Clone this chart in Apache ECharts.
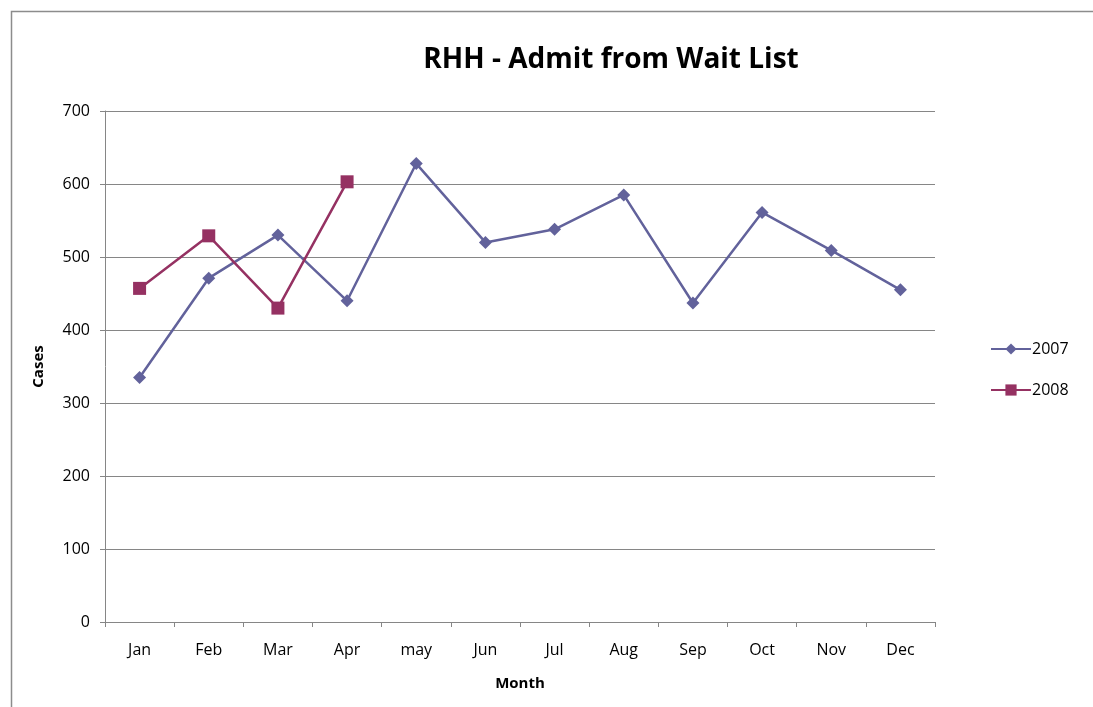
<!DOCTYPE html>
<html>
<head>
<meta charset="utf-8">
<script src="https://cdn.jsdelivr.net/npm/echarts@6/dist/echarts.min.js"></script>
<style>html,body{margin:0;padding:0;background:#fff}#c{width:1093px;height:707px}</style>
</head>
<body>
<div id="c"></div>
<script>
const months = ['Jan','Feb','Mar','Apr','may','Jun','Jul','Aug','Sep','Oct','Nov','Dec'];
const s2007 = [335, 471, 530, 440, 628, 520, 538, 585, 437, 561, 509, 455];
const s2008 = [457, 529, 430, 603];
const yTicks = [0, 100, 200, 300, 400, 500, 600, 700];

const font = '"Open Sans", "Liberation Sans", sans-serif';
const chart = echarts.init(document.getElementById('c'));
chart.setOption({
  animation: false,
  backgroundColor: '#fff',
  graphic: [{
    type: 'rect', left: 9, top: 9, silent: true,
    shape: { width: 1200, height: 800 },
    style: { fill: 'none', stroke: '#8c8c8c', lineWidth: 1.5 }
  }],
  title: {
    text: 'RHH - Admit from Wait List',
    left: 606, top: 41, textAlign: 'center',
    textStyle: { fontFamily: font, fontWeight: 'bold', fontSize: 28, color: '#000' }
  },
  legend: {
    orient: 'vertical', left: 985, top: 336, itemGap: 25,
    itemWidth: 40, itemHeight: 14,
    textStyle: { fontFamily: font, fontSize: 16, color: '#000', padding: [0,0,0,-4] },
    data: ['2007', '2008']
  },
  grid: { left: 105, right: 158, top: 111, bottom: 85, containLabel: false },
  xAxis: {
    type: 'category', data: months, boundaryGap: true,
    name: 'Month', nameLocation: 'middle', nameGap: 54,
    nameTextStyle: { fontFamily: font, fontWeight: 'bold', fontSize: 15, color: '#000' },
    axisLine: { lineStyle: { color: '#868686', width: 1 } },
    axisTick: { show: true, length: 5, lineStyle: { color: '#868686' } },
    axisLabel: { fontFamily: font, fontSize: 16, color: '#000', margin: 20 }
  },
  yAxis: {
    type: 'value', min: 0, max: 700, interval: 100,
    name: 'Cases', nameLocation: 'middle', nameGap: 59, nameRotate: 90,
    nameTextStyle: { fontFamily: font, fontWeight: 'bold', fontSize: 15, color: '#000' },
    axisLine: { show: true, lineStyle: { color: '#868686', width: 1 } },
    axisTick: { show: true, length: 5, lineStyle: { color: '#868686' } },
    axisLabel: { fontFamily: font, fontSize: 16, color: '#000', margin: 15,
      formatter: v => yTicks.includes(v) ? String(v) : '' },
    splitLine: { lineStyle: { color: '#868686', width: 1 } }
  },
  series: [
    { name: '2007', type: 'line', data: s2007, symbol: 'diamond', symbolSize: 13,
      lineStyle: { color: '#62629b', width: 2.5 }, itemStyle: { color: '#62629b' } },
    { name: '2008', type: 'line', data: s2008, symbol: 'rect', symbolSize: 13,
      lineStyle: { color: '#953162', width: 2.5 }, itemStyle: { color: '#953162' } }
  ]
});
</script>
</body>
</html>
